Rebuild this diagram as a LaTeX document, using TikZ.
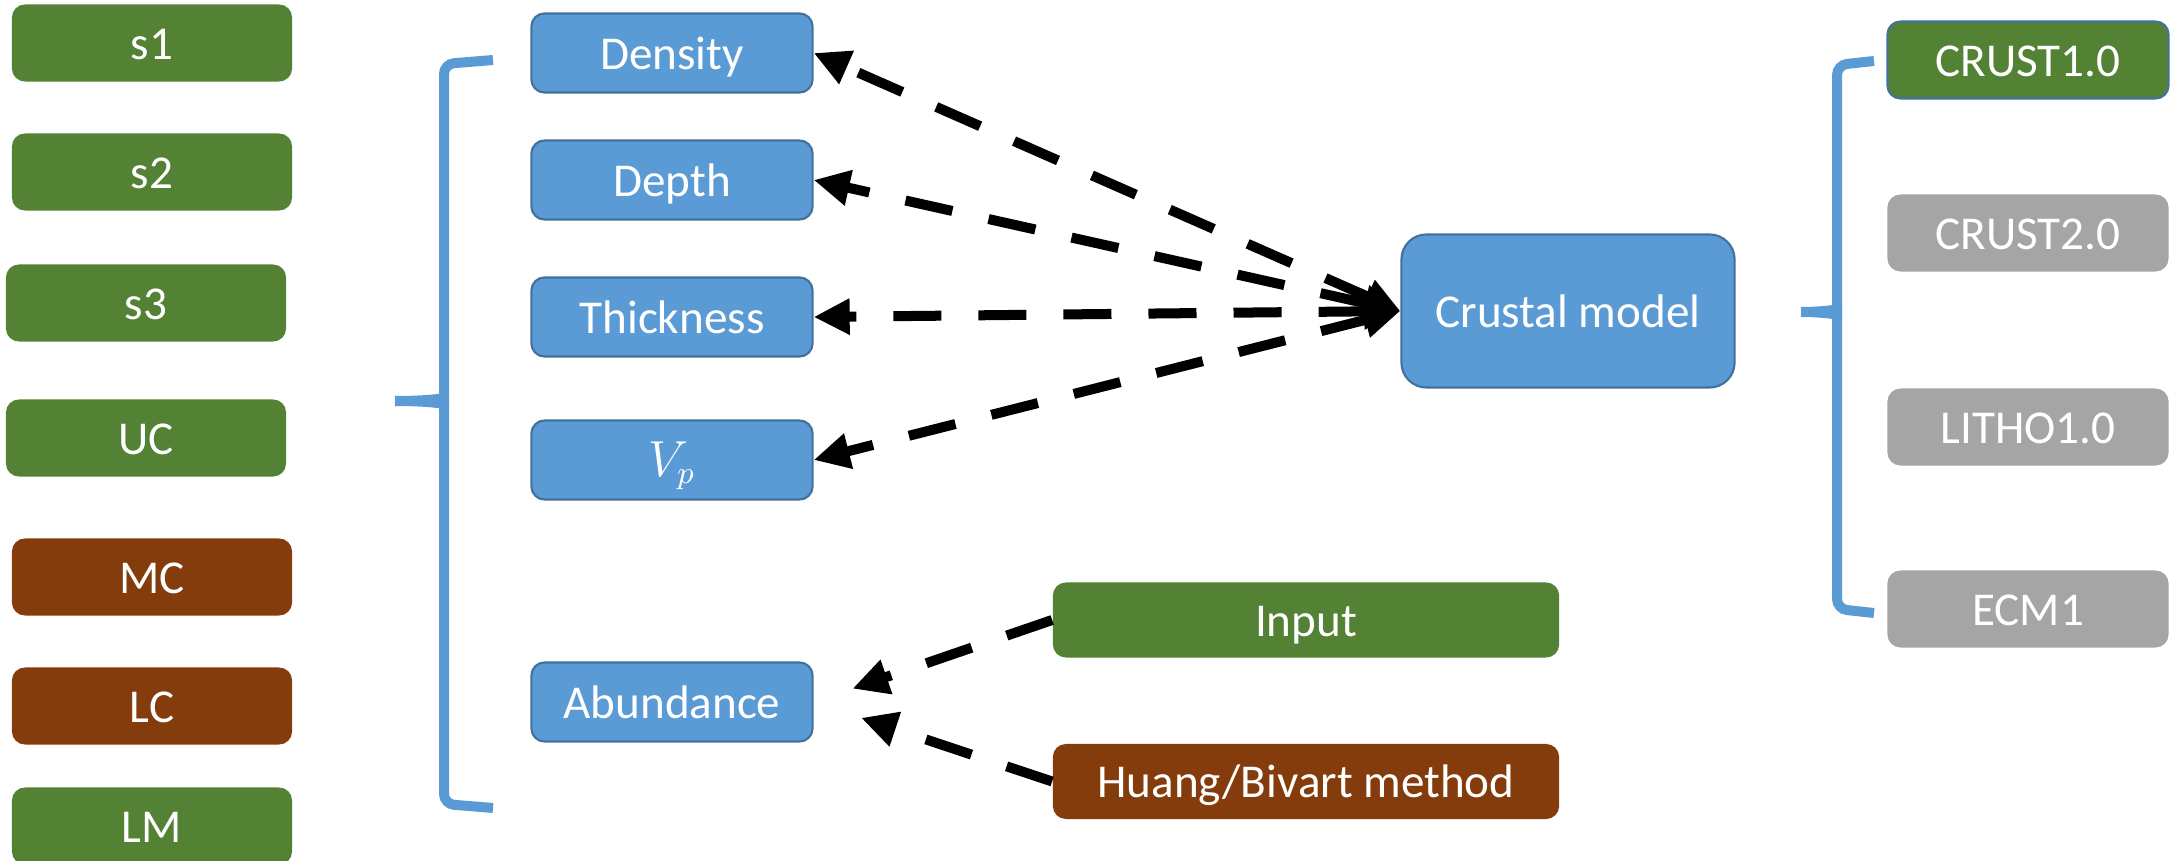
\documentclass[tikz,border=0pt]{standalone}
\usepackage{fontspec}
\setmainfont{Carlito}
\usetikzlibrary{arrows.meta,positioning}
\definecolor{mygreen}{RGB}{84,130,53}
\definecolor{mybrown}{RGB}{132,60,12}
\definecolor{myblue}{RGB}{91,155,213}
\definecolor{myedge}{RGB}{65,113,156}
\definecolor{mygray}{RGB}{165,165,165}
\tikzset{
  box/.style={rectangle, rounded corners=0.13cm, text=white, inner sep=0pt, text height=0.42cm, text depth=0.1cm, minimum width=2.8cm, minimum height=0.77cm, font=\fontsize{13.4pt}{16pt}\selectfont},
  layer/.style={box, fill=#1},
  quantity/.style={box, fill=myblue, draw=myedge, line width=0.6pt, minimum width=2.81cm, minimum height=0.79cm},
  model/.style={quantity, minimum width=3.33cm, minimum height=1.53cm, rounded corners=0.25cm},
  catalog/.style={box, fill=mygray, minimum width=2.81cm, minimum height=0.77cm},
  link/.style={draw=black, line width=0.1cm, dash pattern=on 0.48cm off 0.37cm, >={Triangle[length=0.36cm,width=0.34cm]}},
  curly/.style={draw=myblue, line width=0.1cm, rounded corners=0.1cm}
}
\begin{document}
\begin{tikzpicture}[x=0.01cm, y=-0.01cm]
\useasboundingbox (0,0) rectangle (2184,861);

% layers
\node [layer=mygreen] (s1) at (152,43) {s1};
\node [layer=mygreen] (s2) at (152,172) {s2};
\node [layer=mygreen] (s3) at (146,303) {s3};
\node [layer=mygreen] (uc) at (146,438) {UC};
\node [layer=mybrown] (mc) at (152,577) {MC};
\node [layer=mybrown] (lc) at (152,706) {LC};
\node [layer=mygreen] (lm) at (152,826) {LM};

% left brace
\draw[curly] (493,60) -- (444,64) -- (444,388) .. controls (444,398) and (430,401) .. (395,401);
\draw[curly] (395,401) .. controls (430,401) and (444,404) .. (444,414) -- (444,804) -- (493,808);

% quantities
\node [quantity] (density) at (672,53) {Density};
\node [quantity] (depth) at (672,180) {Depth};
\node [quantity] (thickness) at (672,317) {Thickness};
\node [quantity] (vp) at (672,460) {$V_p$};
\node [quantity] (abundance) at (672,702) {Abundance};

\node [model] (crustal) at (1568,311) {Crustal model};

\node [layer=mygreen, minimum width=5.06cm, minimum height=0.75cm] (input) at (1306,620) {Input};
\node [layer=mybrown, minimum width=5.06cm, minimum height=0.75cm, below=0.85cm of input] (huang) {Huang/Bivart method};

% right brace
\draw[curly] (1874,61) -- (1837,65) -- (1837,300) .. controls (1837,309) and (1825,312) .. (1801,312);
\draw[curly] (1801,312) .. controls (1825,312) and (1837,315) .. (1837,324) -- (1837,609) -- (1874,613);

% models
\node [layer=mygreen, draw=myedge, line width=0.6pt, minimum width=2.81cm] (crust1) at (2028,60) {CRUST1.0};
\node [catalog] (crust2) at (2028,233) {CRUST2.0};
\node [catalog] (litho) at (2028,427) {LITHO1.0};
\node [catalog] (ecm) at (2028,609) {ECM1};

% arrows
\draw[link, <->] (crustal.west) -- (density.east);
\draw[link, <->] (crustal.west) -- (depth.east);
\draw[link, <->] (crustal.west) -- (thickness.east);
\draw[link, <->] (crustal.west) -- (vp.east);
\draw[link, ->, shorten >=0.41cm] (input.west) -- (abundance.east);
\draw[link, ->, shorten >=0.5cm] (huang.west) -- (abundance.east);

\end{tikzpicture}
\end{document}
